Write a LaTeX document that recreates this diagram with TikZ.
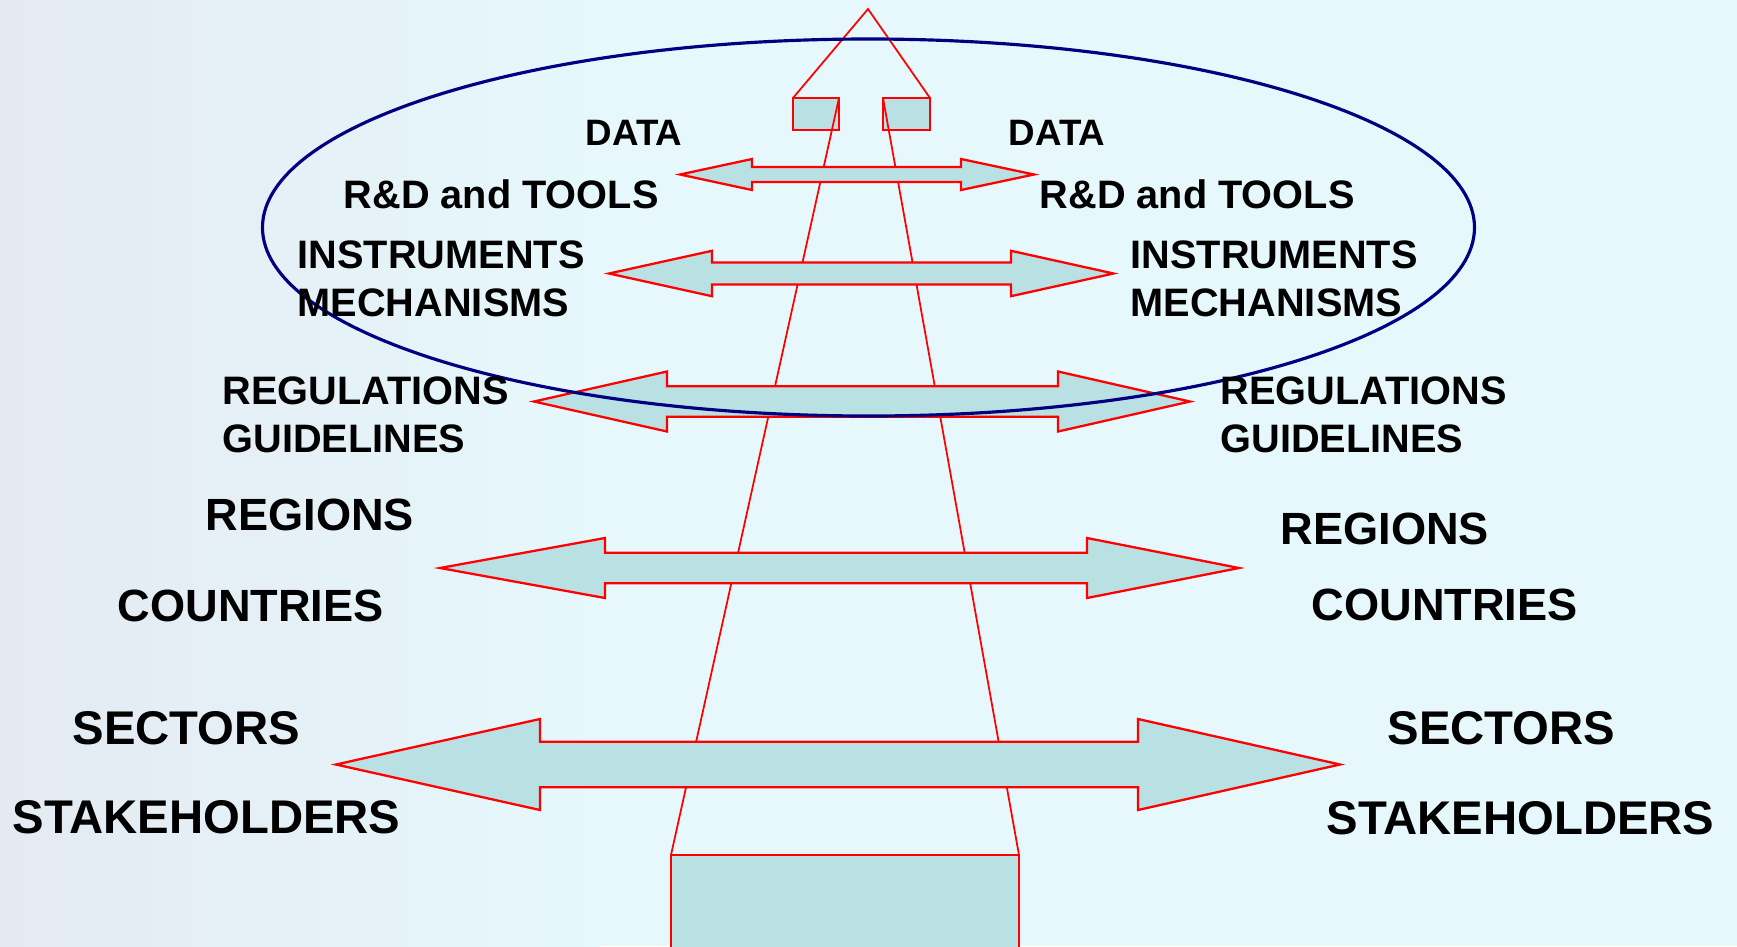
\documentclass[tikz,border=0pt]{standalone}
\usepackage{fontspec}
\setmainfont{Liberation Sans}
\usepackage{xcolor}
\usepackage{tikz}
\definecolor{bgcyan}{HTML}{E6F8FC}
\definecolor{photogrey}{HTML}{E4EAF2}
\definecolor{bandfill}{HTML}{B9E0E3}
\definecolor{ringblue}{HTML}{000080}

\begin{document}
\begin{tikzpicture}[
    band/.style={draw=red, fill=bandfill, line width=0.65pt},
    rail/.style={draw=red, line width=0.5pt},
    block/.style={rail, fill=bandfill, inner sep=0pt, outer sep=0pt, anchor=north west},
    lab/.style={anchor=base west, inner sep=0pt, font=\bfseries\fontsize{11.3}{13.8}\selectfont},
    smalllab/.style={lab, font=\bfseries\fontsize{10.45}{12}\selectfont},
    midlab/.style={lab, font=\bfseries\fontsize{12.85}{15}\selectfont},
    biglab/.style={lab, font=\bfseries\fontsize{13.45}{16}\selectfont}
  ]
    \useasboundingbox (0,0) rectangle (17.37,-9.46);
    \fill[bgcyan] (0,0) rectangle (17.37,-9.46);
    \shade[left color=photogrey, right color=bgcyan] (0,0) rectangle (6,-9.46);

    % the tower
    \coordinate (apex) at (8.68,-0.09);
    \node[block, minimum width=0.46cm, minimum height=0.32cm] (lbox) at (7.93,-0.98) {};
    \node[block, minimum width=0.47cm, minimum height=0.32cm] (rbox) at (8.83,-0.98) {};
    \node[block, minimum width=3.48cm, minimum height=1.2cm] (foot) at (6.71,-8.55) {};
    \draw[rail] (lbox.north west) -- (apex) -- (rbox.north east);
    \draw[rail] (lbox.north east) -- (foot.north west);
    \draw[rail] (rbox.north west) -- (foot.north east);

    % double arrows, top to bottom
    \draw[band] (6.80,-1.745) -- (7.52,-1.59) -- (7.52,-1.67) -- (9.61,-1.67) -- (9.61,-1.59)
      -- (10.34,-1.745) -- (9.61,-1.90) -- (9.61,-1.82) -- (7.52,-1.82) -- (7.52,-1.90) -- cycle;
    \draw[band] (6.09,-2.735) -- (7.12,-2.508) -- (7.12,-2.625) -- (10.11,-2.625) -- (10.11,-2.508)
      -- (11.135,-2.735) -- (10.11,-2.962) -- (10.11,-2.845) -- (7.12,-2.845) -- (7.12,-2.962) -- cycle;
    \draw[band] (5.34,-4.015) -- (6.67,-3.715) -- (6.67,-3.862) -- (10.58,-3.862) -- (10.58,-3.715)
      -- (11.90,-4.015) -- (10.58,-4.315) -- (10.58,-4.168) -- (6.67,-4.168) -- (6.67,-4.315) -- cycle;
    \draw[band] (4.40,-5.68) -- (6.05,-5.38) -- (6.05,-5.527) -- (10.87,-5.527) -- (10.87,-5.38)
      -- (12.39,-5.68) -- (10.87,-5.98) -- (10.87,-5.833) -- (6.05,-5.833) -- (6.05,-5.98) -- cycle;
    \draw[band] (3.36,-7.645) -- (5.40,-7.19) -- (5.40,-7.418) -- (11.38,-7.418) -- (11.38,-7.19)
      -- (13.40,-7.645) -- (11.38,-8.10) -- (11.38,-7.872) -- (5.40,-7.872) -- (5.40,-8.10) -- cycle;

    % the ring round the upper levels
    \draw[ringblue, line width=0.9pt] (8.685,-2.275) ellipse [x radius=6.06, y radius=1.885];

    % left labels
    \node[smalllab] (dataL) at (5.85,-1.45) {DATA};
    \node[lab] (toolsL) at (3.43,-2.083) {R\&D and TOOLS};
    \node[lab] (instrL) at (2.97,-2.683) {INSTRUMENTS};
    \node[lab] (mechL) at (2.97,-3.167) {MECHANISMS};
    \node[lab] (reguL) at (2.22,-4.043) {REGULATIONS};
    \node[lab] (guideL) at (2.22,-4.527) {GUIDELINES};
    \node[midlab] (regL) at (2.05,-5.30) {REGIONS};
    \node[midlab] (ctryL) at (1.17,-6.217) {COUNTRIES};
    \node[biglab] (sectL) at (0.72,-7.44) {SECTORS};
    \node[biglab] (stakeL) at (0.12,-8.333) {STAKEHOLDERS};

    % right labels
    \node[smalllab] (dataR) at (10.08,-1.45) {DATA};
    \node[lab] (toolsR) at (10.39,-2.083) {R\&D and TOOLS};
    \node[lab] (instrR) at (11.30,-2.683) {INSTRUMENTS};
    \node[lab] (mechR) at (11.30,-3.167) {MECHANISMS};
    \node[lab] (reguR) at (12.20,-4.043) {REGULATIONS};
    \node[lab] (guideR) at (12.20,-4.527) {GUIDELINES};
    \node[midlab] (regR) at (12.80,-5.44) {REGIONS};
    \node[midlab] (ctryR) at (13.11,-6.207) {COUNTRIES};
    \node[biglab] (sectR) at (13.87,-7.44) {SECTORS};
    \node[biglab] (stakeR) at (13.26,-8.34) {STAKEHOLDERS};
  \end{tikzpicture}
\end{document}
